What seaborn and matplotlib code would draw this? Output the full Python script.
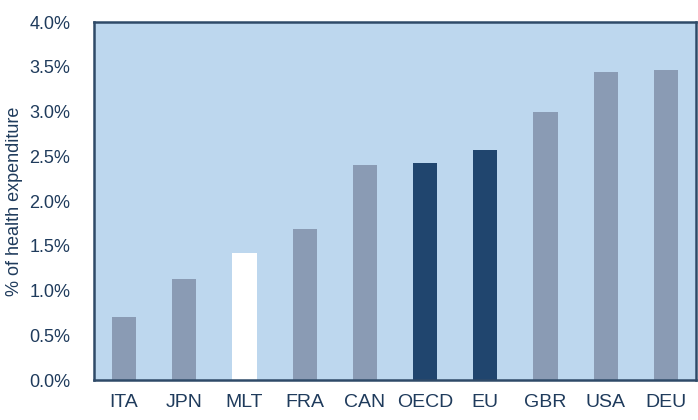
import matplotlib
matplotlib.use("Agg")
import matplotlib.pyplot as plt
import seaborn as sns
import pandas as pd
from matplotlib.ticker import PercentFormatter

# data
countries = ["ITA", "JPN", "MLT", "FRA", "CAN", "OECD", "EU", "GBR", "USA", "DEU"]
share = [0.70, 1.13, 1.42, 1.69, 2.40, 2.42, 2.57, 2.99, 3.44, 3.46]
group = ["other", "other", "focus", "other", "other", "avg", "avg", "other", "other", "other"]

colors = {"other": "#8A9BB4", "focus": "#FFFFFF", "avg": "#20456E"}
text_col = "#1F3B5C"

df = pd.DataFrame({"country": countries, "share": share, "group": group})

sns.set_style("white")
plt.rcParams["font.family"] = ["Liberation Sans", "DejaVu Sans"]

fig = plt.figure(figsize=(6.98, 4.2), dpi=100)
ax = fig.add_axes([0.1347, 0.0952, 0.8625, 0.8524])

sns.barplot(data=df, x="country", y="share", hue="group", palette=colors,
            width=0.4, dodge=False, legend=False, saturation=1, linewidth=0, ax=ax)

ax.set_facecolor("#BDD7EE")
ax.set_xlim(-0.5, len(countries) - 0.5)
ax.set_ylim(0, 4.0)
ax.set_yticks([0, 0.5, 1.0, 1.5, 2.0, 2.5, 3.0, 3.5, 4.0])
ax.yaxis.set_major_formatter(PercentFormatter(decimals=1))
ax.tick_params(axis="both", length=0, labelsize=13, labelcolor=text_col)
ax.tick_params(axis="x", pad=10, labelsize=14)
ax.tick_params(axis="y", pad=17)
ax.set_xlabel("")
ax.set_ylabel("% of health expenditure", fontsize=13, color=text_col)
ax.yaxis.set_label_coords(-0.118, 0.5)
for s in ax.spines.values():
    s.set_visible(True)
    s.set_color("#2F4A68")
    s.set_linewidth(1.8)

fig.savefig("out.png", dpi=100)
